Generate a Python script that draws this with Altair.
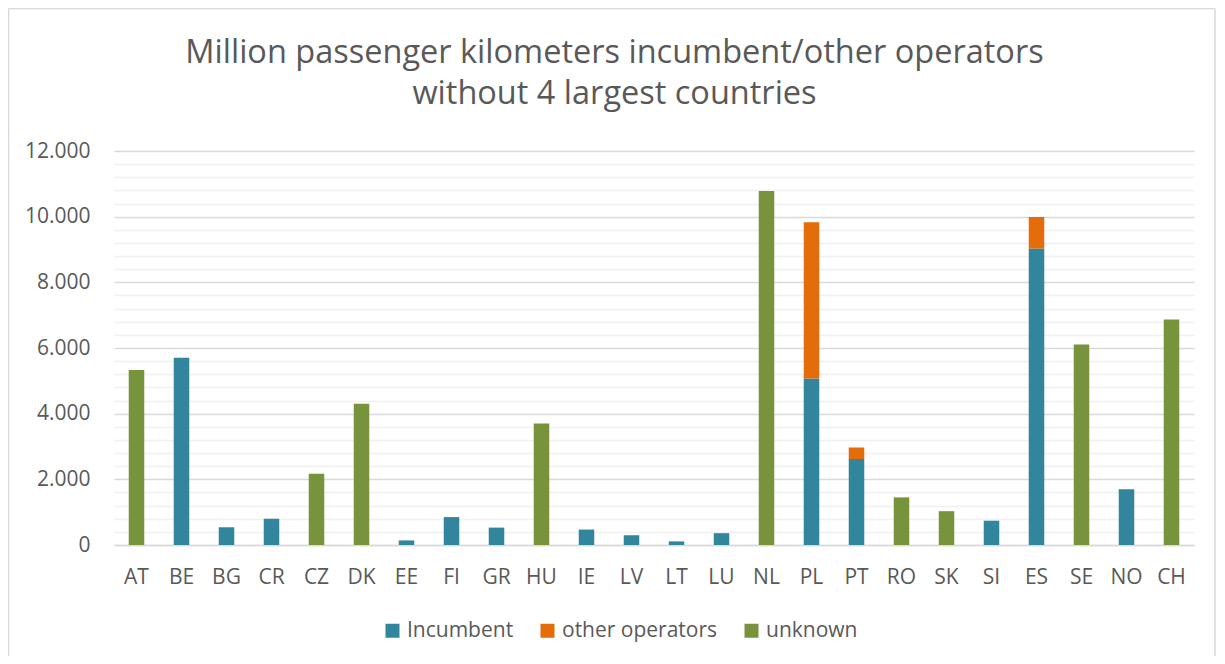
import altair as alt
import pandas as pd

countries = ["AT", "BE", "BG", "CR", "CZ", "DK", "EE", "FI", "GR", "HU", "IE", "LV",
             "LT", "LU", "NL", "PL", "PT", "RO", "SK", "SI", "ES", "SE", "NO", "CH"]
incumbent = [0, 5700, 540, 800, 0, 0, 140, 850, 530, 0, 470, 300,
             110, 360, 0, 5070, 2620, 0, 0, 740, 9030, 0, 1700, 0]
other_ops = [0, 0, 0, 0, 0, 0, 0, 0, 0, 0, 0, 0,
             0, 0, 0, 4760, 350, 0, 0, 0, 960, 0, 0, 0]
unknown = [5330, 0, 0, 0, 2170, 4300, 0, 0, 0, 3700, 0, 0,
           0, 0, 10780, 0, 0, 1450, 1030, 0, 0, 6110, 0, 6870]

series_names = ["Incumbent", "other operators", "unknown"]
series_colors = ["#31859C", "#E46C0A", "#77933C"]
title_lines = ["Million passenger kilometers incumbent/other operators",
               "without 4 largest countries"]

rows = []
for i, c in enumerate(countries):
    for k, (name, vals) in enumerate(zip(series_names, [incumbent, other_ops, unknown])):
        if vals[i] > 0:
            rows.append({"country": c, "series": name, "value": vals[i], "order": k})
df = pd.DataFrame(rows)

TEXT = "#595959"
FONT = "Open Sans"
FS = 21

ticks = list(range(0, 12001, 400))

bars = alt.Chart(df).mark_bar().encode(
    x=alt.X("country:N", sort=countries, title=None,
            scale=alt.Scale(paddingInner=0.655, paddingOuter=0.3275),
            axis=alt.Axis(labelAngle=0, labelFontSize=FS, labelColor=TEXT, labelFont=FONT,
                          ticks=False, labelPadding=21, domainColor="#d9d9d9",
                          domainWidth=1.5, grid=False)),
    y=alt.Y("sum(value):Q", title=None,
            scale=alt.Scale(domain=[0, 12000], nice=False),
            axis=alt.Axis(values=ticks, ticks=False, domain=False, labelPadding=24,
                          labelFontSize=FS, labelColor=TEXT, labelFont=FONT,
                          labelExpr="datum.value % 2000 === 0 ? replace(format(datum.value, ',d'), ',', '.') : ''",
                          gridColor={"condition": {"test": "datum.value % 2000 === 0", "value": "#d9d9d9"},
                                     "value": "#f0f0f0"},
                          gridWidth=1.3)),
    color=alt.Color("series:N", title=None,
                    scale=alt.Scale(domain=series_names, range=series_colors),
                    legend=alt.Legend(orient="none", legendX=268, legendY=469,
                                      direction="horizontal", symbolType="square",
                                      symbolSize=196, symbolStrokeWidth=0,
                                      labelFontSize=FS, labelColor=TEXT, labelFont=FONT,
                                      columnPadding=23, labelOffset=4)),
    order=alt.Order("order:Q"),
)

one = pd.DataFrame({"k": [0]})
edge = dict(color="#d9d9d9", strokeWidth=1.5)
left_edge = alt.Chart(one).mark_rule(**edge).encode(
    x=alt.value(-105.5), y=alt.value(-142.5), y2=alt.value(510))
top_edge = alt.Chart(one).mark_rule(**edge).encode(
    x=alt.value(-105.5), x2=alt.value(1101), y=alt.value(-142.5))
right_edge = alt.Chart(one).mark_rule(**edge).encode(
    x=alt.value(1101), y=alt.value(-142.5), y2=alt.value(510))

title1 = alt.Chart(one).mark_text(fontSize=32.5, font=FONT, color=TEXT, align="center",
                                  baseline="alphabetic").encode(
    x=alt.value(500.5), y=alt.value(-88), text=alt.value(title_lines[0]))
title2 = alt.Chart(one).mark_text(fontSize=32.5, font=FONT, color=TEXT, align="center",
                                  baseline="alphabetic").encode(
    x=alt.value(500.5), y=alt.value(-47), text=alt.value(title_lines[1]))

chart = alt.layer(left_edge, top_edge, right_edge, title1, title2, bars).properties(
    width=1080,
    height=394,
    autosize=alt.AutoSizeParams(type="none"),
    padding={"left": 106, "top": 143, "right": 23, "bottom": 111},
).configure(font=FONT).configure_view(stroke="transparent", strokeWidth=0)

chart.save("out.html", embed_options={"renderer": "svg", "actions": False})
